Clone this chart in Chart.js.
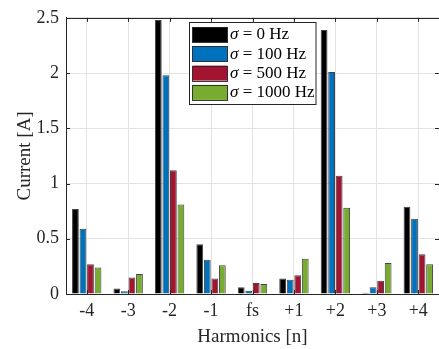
<!DOCTYPE html>
<html>
<head>
<meta charset="utf-8">
<script src="https://cdn.jsdelivr.net/npm/chart.js@4.4.1/dist/chart.umd.min.js"></script>
<style>
  html, body { margin: 0; padding: 0; background: #ffffff; }
  #wrap { width: 439px; height: 349px; }
</style>
</head>
<body>
<div id="wrap"><canvas id="c" width="439" height="349"></canvas></div>
<script>
// ---- data ----
const categories = ['-4', '-3', '-2', '-1', 'fs', '+1', '+2', '+3', '+4'];
const sigmaValues = ['0', '100', '500', '1000'];
const current0 = [0.77, 0.05, 2.48, 0.45, 0.06, 0.14, 2.39, 0.012, 0.79];
const current100 = [0.59, 0.025, 1.98, 0.31, 0.03, 0.13, 2.01, 0.06, 0.68];
const current500 = [0.27, 0.15, 1.12, 0.14, 0.10, 0.17, 1.07, 0.12, 0.36];
const current1000 = [0.24, 0.18, 0.81, 0.26, 0.09, 0.32, 0.78, 0.28, 0.27];
const yTicks = [0, 0.5, 1, 1.5, 2, 2.5];
const yTickLabels = ['0', '0.5', '1', '1.5', '2', '2.5'];

const seriesValues = [current0, current100, current500, current1000];
const seriesColors = ['#000000', '#0072BD', '#A2142F', '#77AC30'];
const FONT = "'Liberation Serif', 'Times New Roman', serif";
const AXIS = '#262626';

const datasets = seriesValues.map((vals, i) => ({
  label: '\u03C3 = ' + sigmaValues[i] + ' Hz',
  data: vals,
  backgroundColor: seriesColors[i],
  borderColor: 'rgba(35,35,35,0.85)',
  borderWidth: 1,
  categoryPercentage: 0.727,
  barPercentage: 0.9
}));

const framePlugin = {
  id: 'frame',
  afterDraw(chart) {
    const ctx = chart.ctx;
    const a = chart.chartArea;
    const xs = chart.scales.x, ys = chart.scales.y;
    ctx.save();
    ctx.strokeStyle = AXIS;
    ctx.lineWidth = 1;
    // top border
    ctx.beginPath();
    ctx.moveTo(a.left, Math.round(a.top) + 0.5);
    ctx.lineTo(a.right, Math.round(a.top) + 0.5);
    ctx.stroke();
    // inward ticks
    const tl = 4;
    ctx.beginPath();
    ys.ticks.forEach((t, i) => {
      const y = Math.round(ys.getPixelForTick(i)) + 0.5;
      ctx.moveTo(a.left, y); ctx.lineTo(a.left + tl, y);
      ctx.moveTo(a.right, y); ctx.lineTo(a.right - tl, y);
    });
    xs.ticks.forEach((t, i) => {
      const x = Math.round(xs.getPixelForTick(i)) + 0.5;
      ctx.moveTo(x, a.bottom); ctx.lineTo(x, a.bottom - tl);
      ctx.moveTo(x, a.top); ctx.lineTo(x, a.top + tl);
    });
    ctx.stroke();

    // legend box
    const lx = 189.5, ly = 22.5, lw = 126.5, lh = 82;
    ctx.fillStyle = '#ffffff';
    ctx.fillRect(lx, ly, lw, lh);
    ctx.strokeStyle = AXIS;
    ctx.strokeRect(lx, ly, lw, lh);
    chart.data.datasets.forEach((ds, i) => {
      const py = 27 + i * 19.3;
      ctx.fillStyle = ds.backgroundColor;
      ctx.fillRect(192.5, py, 35, 15);
      ctx.strokeStyle = 'rgba(35,35,35,0.9)';
      ctx.strokeRect(192.5, Math.round(py) + 0.5, 35, 15);
      const cy = py + 8;
      ctx.fillStyle = '#000000';
      ctx.textBaseline = 'middle';
      ctx.textAlign = 'left';
      const parts = ds.label.split(' ');
      ctx.font = 'italic 17px ' + FONT;
      ctx.fillText(parts[0], 230, cy);
      const w = ctx.measureText(parts[0]).width;
      ctx.font = '17px ' + FONT;
      ctx.fillText(' ' + parts.slice(1).join(' '), 230 + w, cy);
    });
    ctx.restore();
  }
};

new Chart(document.getElementById('c'), {
  type: 'bar',
  data: { labels: categories, datasets: datasets },
  options: {
    responsive: false,
    devicePixelRatio: 1,
    animation: false,
    layout: { padding: { top: 11, right: -1, left: 0, bottom: 0 } },
    plugins: { legend: { display: false }, tooltip: { enabled: false } },
    scales: {
      x: {
        type: 'category',
        offset: true,
        grid: { offset: false, color: '#e3e3e3', drawTicks: false, lineWidth: 1 },
        border: { color: AXIS, width: 1 },
        ticks: { color: AXIS, font: { family: FONT, size: 18 }, padding: 6, maxRotation: 0, autoSkip: false },
        title: { display: true, text: 'Harmonics [n]', color: AXIS, font: { family: FONT, size: 19 }, padding: { top: 0, bottom: 1 } },
        afterFit(s) { s.height = 55; }
      },
      y: {
        min: 0,
        max: 2.5,
        afterBuildTicks(s) { s.ticks = yTicks.map(v => ({ value: v })); },
        grid: { color: '#e3e3e3', drawTicks: false, lineWidth: 1 },
        border: { color: AXIS, width: 1 },
        ticks: {
          color: AXIS, font: { family: FONT, size: 18 }, padding: 7,
          callback: (v, i) => yTickLabels[i]
        },
        title: { display: true, text: 'Current [A]', color: AXIS, font: { family: FONT, size: 19 }, padding: { top: 13.5, bottom: 0 } },
        afterFit(s) { s.width = 66; }
      }
    }
  },
  plugins: [framePlugin]
});
</script>
</body>
</html>
